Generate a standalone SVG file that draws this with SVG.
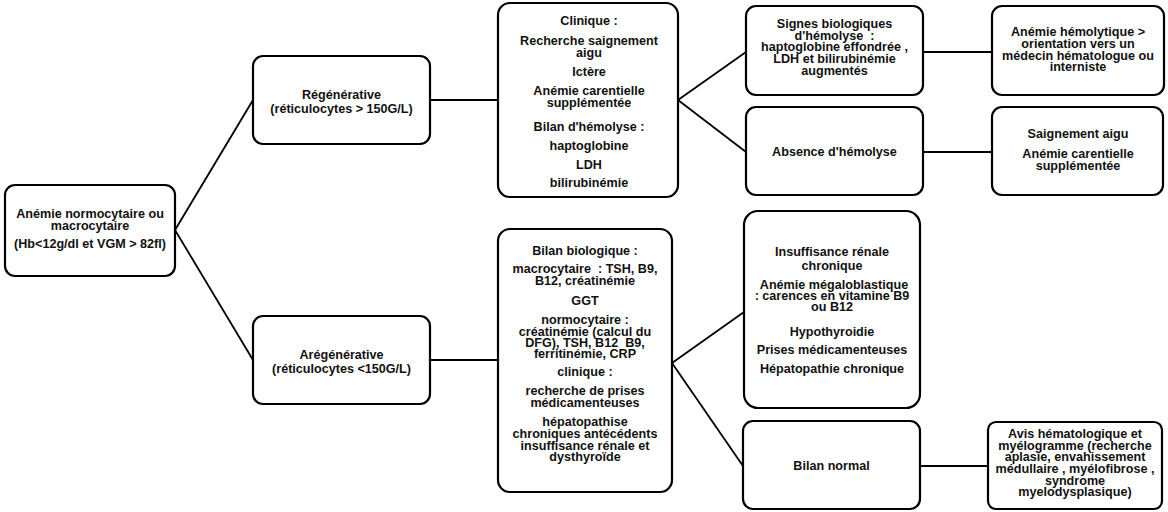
<svg xmlns="http://www.w3.org/2000/svg" width="1168" height="512" viewBox="0 0 1168 512">
<style>
.box{fill:#fff;stroke:#000;stroke-width:2.2}
.t{font-family:"Liberation Sans",Arial,sans-serif;font-weight:bold;font-size:12.6px;fill:#111;text-anchor:middle;white-space:pre}
.c{stroke:#000;stroke-width:1.8;fill:none}
</style>
<rect width="1168" height="512" fill="#fff"/>
<g id="connectors">
<line class="c" x1="175" y1="230" x2="253" y2="100"/>
<line class="c" x1="175" y1="230" x2="253" y2="360"/>
<line class="c" x1="430" y1="100" x2="498" y2="100"/>
<line class="c" x1="430" y1="360" x2="498" y2="360"/>
<line class="c" x1="678" y1="100" x2="746" y2="52"/>
<line class="c" x1="678" y1="100" x2="746" y2="152"/>
<line class="c" x1="923" y1="52" x2="992" y2="52"/>
<line class="c" x1="923" y1="152" x2="992" y2="152"/>
<line class="c" x1="672" y1="363" x2="744" y2="312"/>
<line class="c" x1="672" y1="363" x2="743" y2="466"/>
<line class="c" x1="920" y1="466" x2="988" y2="466"/>
</g>
<g id="root">
<rect class="box" x="5" y="185" width="170" height="91" rx="10"/>
<text class="t"><tspan x="90" y="217.5">Anémie normocytaire ou</tspan><tspan x="90" y="229.5">macrocytaire</tspan><tspan x="90" y="247.5">(Hb&lt;12g/dl et VGM &gt; 82fl)</tspan></text>
</g>
<g id="regenerative">
<rect class="box" x="253" y="56" width="177" height="88" rx="10"/>
<text class="t"><tspan x="341.5" y="98.5">Régénérative</tspan><tspan x="341.5" y="113">(réticulocytes &gt; 150G/L)</tspan></text>
</g>
<g id="aregenerative">
<rect class="box" x="253" y="316" width="177" height="88" rx="10"/>
<text class="t"><tspan x="341.5" y="358.5">Arégénérative</tspan><tspan x="341.5" y="373">(réticulocytes &lt;150G/L)</tspan></text>
</g>
<g id="clinique">
<rect class="box" x="498" y="3" width="180" height="194" rx="12"/>
<text class="t"><tspan x="589" y="24.5">Clinique :</tspan><tspan x="589" y="44.5">Recherche saignement</tspan><tspan x="589" y="56.8">aigu</tspan><tspan x="589" y="76.2">Ictère</tspan><tspan x="589" y="95.2">Anémie carentielle</tspan><tspan x="589" y="106.8">supplémentée</tspan><tspan x="589" y="131.2">Bilan d'hémolyse :</tspan><tspan x="589" y="150.2">haptoglobine</tspan><tspan x="589" y="168.5">LDH</tspan><tspan x="589" y="187.2">bilirubinémie</tspan></text>
</g>
<g id="bilan-bio">
<rect class="box" x="498" y="229" width="174" height="263" rx="12"/>
<text class="t"><tspan x="585" y="254.5">Bilan biologique :</tspan><tspan x="585" y="272.8">macrocytaire  : TSH, B9,</tspan><tspan x="585" y="284.5">B12, créatinémie</tspan><tspan x="585" y="304.5">GGT</tspan><tspan x="585" y="323.5">normocytaire :</tspan><tspan x="585" y="335.5">créatinémie (calcul du</tspan><tspan x="585" y="346.8">DFG), TSH, B12  B9,</tspan><tspan x="585" y="357.8">ferritinémie, CRP</tspan><tspan x="585" y="376.2">clinique :</tspan><tspan x="585" y="395.2">recherche de prises</tspan><tspan x="585" y="406.8">médicamenteuses</tspan><tspan x="585" y="426.2">hépatopathise</tspan><tspan x="585" y="437.8">chroniques antécédents</tspan><tspan x="585" y="449.5">insuffisance rénale et</tspan><tspan x="585" y="461.2">dysthyroïde</tspan></text>
</g>
<g id="signes">
<rect class="box" x="746" y="6" width="177" height="89" rx="10"/>
<text class="t"><tspan x="834.5" y="27.8">Signes biologiques</tspan><tspan x="834.5" y="39.5">d'hémolyse  :</tspan><tspan x="834.5" y="51.2">haptoglobine effondrée ,</tspan><tspan x="834.5" y="62.8">LDH et bilirubinémie</tspan><tspan x="834.5" y="74.5">augmentés</tspan></text>
</g>
<g id="absence">
<rect class="box" x="746" y="107" width="177" height="88" rx="10"/>
<text class="t" x="834.5" y="156">Absence d'hémolyse</text>
</g>
<g id="insuffisance">
<rect class="box" x="744" y="211" width="176" height="197" rx="14"/>
<text class="t"><tspan x="832" y="256.2">Insuffisance rénale</tspan><tspan x="832" y="269.5">chronique</tspan><tspan x="834" y="288.8">Anémie mégaloblastique</tspan><tspan x="832" y="300.2">: carences en vitamine B9</tspan><tspan x="832" y="311.2">ou B12</tspan><tspan x="832" y="335.5">Hypothyroidie</tspan><tspan x="832" y="353.5">Prises médicamenteuses</tspan><tspan x="832" y="372.8">Hépatopathie chronique</tspan></text>
</g>
<g id="bilan-normal">
<rect class="box" x="743" y="421" width="177" height="88" rx="10"/>
<text class="t" x="831.5" y="470">Bilan normal</text>
</g>
<g id="anemie-hemolytique">
<rect class="box" x="992" y="6" width="172" height="89" rx="10"/>
<text class="t"><tspan x="1078" y="36.2">Anémie hémolytique &gt;</tspan><tspan x="1078" y="47.8">orientation vers un</tspan><tspan x="1078" y="59.5">médecin hématologue ou</tspan><tspan x="1078" y="71.2">interniste</tspan></text>
</g>
<g id="saignement">
<rect class="box" x="992" y="107" width="171" height="88" rx="10"/>
<text class="t"><tspan x="1078" y="137.8">Saignement aigu</tspan><tspan x="1078" y="157.8">Anémie carentielle</tspan><tspan x="1078" y="169.5">supplémentée</tspan></text>
</g>
<g id="avis">
<rect class="box" x="988" y="422" width="174" height="87" rx="8"/>
<text class="t"><tspan x="1075" y="437.8">Avis hématologique et</tspan><tspan x="1075" y="449.5">myélogramme (recherche</tspan><tspan x="1075" y="461.2">aplasie, envahissement</tspan><tspan x="1075" y="472.8">médullaire , myélofibrose ,</tspan><tspan x="1075" y="484.5">syndrome</tspan><tspan x="1075" y="496.2">myelodysplasique)</tspan></text>
</g>
</svg>
